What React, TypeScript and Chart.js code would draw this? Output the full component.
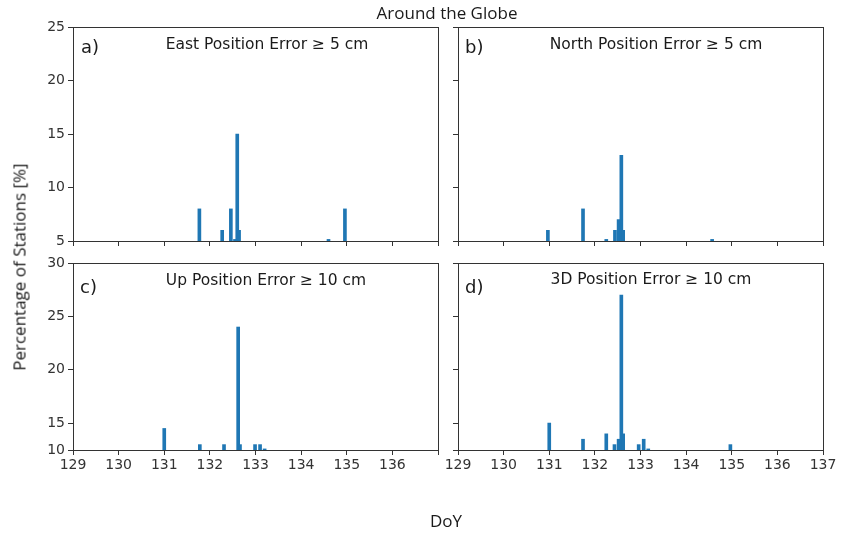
import React, { useEffect, useRef } from "react";
import Chart, { LinearScale } from "chart.js/auto";

const figureTitle = "Around the Globe";
const xAxisTitle = "DoY";
const yAxisTitle = "Percentage of Stations [%]";

const dayTicks = [129, 130, 131, 132, 133, 134, 135, 136, 137];
const topYTicks = [5, 10, 15, 20, 25];
const bottomYTicks = [10, 15, 20, 25, 30];

const eastDoY = [131.77, 132.27, 132.46, 132.55, 132.6, 132.64, 134.6, 134.96];
const eastPct = [8, 6, 8, 5.15, 15, 6, 5.15, 8];

const northDoY = [130.97, 131.74, 132.25, 132.44, 132.52, 132.58, 132.62, 134.57];
const northPct = [6, 8, 5.15, 6, 7, 13, 6, 5.15];

const upDoY = [131.0, 131.78, 132.31, 132.62, 132.66, 132.99, 133.1, 133.2];
const upPct = [14, 11, 11, 24, 11, 11, 11, 10.2];

const d3DoY = [131.0, 131.74, 132.25, 132.43, 132.52, 132.58, 132.62, 132.96, 133.07, 133.17, 134.97];
const d3Pct = [15, 12, 13, 11, 12, 27, 13, 11, 12, 10.2, 11];

const W = 842;
const H = 533;
const INK = "#333333";
const BAR = "#1f77b4";
const Y_AXIS_W = 50;
const X_AXIS_H = 30;

// Bottom-row axis as printed: 10..15 occupies a shorter band than 15..30.
const bottomBreakValue = 15;
const bottomBreakFraction = 0.856;

class BrokenLinearScale extends (LinearScale as any) {
  static id = "brokenLinear";
  getPixelForValue(value: number) {
    const b = bottomBreakValue;
    const f = bottomBreakFraction;
    let frac: number;
    if (value >= b) frac = ((this.max - value) / (this.max - b)) * f;
    else frac = f + ((b - value) / (b - this.min)) * (1 - f);
    return this.top + frac * this.height;
  }
  getValueForPixel(pixel: number) {
    const b = bottomBreakValue;
    const f = bottomBreakFraction;
    const frac = (pixel - this.top) / this.height;
    if (frac <= f) return this.max - (frac / f) * (this.max - b);
    return b - ((frac - f) / (1 - f)) * (b - this.min);
  }
}
Chart.register(BrokenLinearScale as any);

type PanelProps = {
  left: number; top: number; right: number; bottom: number;
  xs: number[]; ys: number[];
  yTicks: number[]; yType: string;
  showXLabels: boolean; hideLastX: boolean; showYLabels: boolean;
};

const framePlugin = {
  id: "frame",
  afterDatasetsDraw(chart: any) {
    const { ctx, chartArea } = chart;
    ctx.save();
    ctx.strokeStyle = INK;
    ctx.lineWidth = 1;
    ctx.strokeRect(chartArea.left + 0.5, chartArea.top + 0.5, chartArea.right - chartArea.left, chartArea.bottom - chartArea.top);
    ctx.restore();
  },
};

function Panel(p: PanelProps) {
  const ref = useRef<HTMLCanvasElement | null>(null);
  useEffect(() => {
    if (!ref.current) return;
    const tickFont = { family: "DejaVu Sans", size: 14 };
    const chart = new Chart(ref.current, {
      type: "bar",
      data: {
        datasets: [
          {
            data: p.xs.map((x, i) => ({ x, y: p.ys[i] })),
            backgroundColor: BAR,
            borderWidth: 0,
            barThickness: 3,
          },
        ],
      },
      options: {
        responsive: false,
        animation: false,
        devicePixelRatio: 1,
        layout: {
          padding: {
            left: p.left - Y_AXIS_W,
            top: p.top,
            right: W - p.right,
            bottom: H - p.bottom - X_AXIS_H,
          },
        },
        plugins: { legend: { display: false }, tooltip: { enabled: false }, title: { display: false } },
        scales: {
          x: {
            type: "linear",
            min: dayTicks[0],
            max: dayTicks[dayTicks.length - 1],
            offset: false,
            afterFit: (s: any) => { s.height = X_AXIS_H; },
            afterBuildTicks: (s: any) => { s.ticks = dayTicks.map((v) => ({ value: v })); },
            grid: { offset: false, drawOnChartArea: false, drawTicks: true, tickLength: 5, tickColor: INK, color: INK },
            border: { display: false },
            ticks: {
              display: p.showXLabels,
              autoSkip: false,
              maxRotation: 0,
              padding: 2,
              color: INK,
              font: tickFont,
              callback: (v: any) => (p.hideLastX && v === dayTicks[dayTicks.length - 1] ? "" : String(v)),
            },
          },
          y: {
            type: p.yType,
            min: p.yTicks[0],
            max: p.yTicks[p.yTicks.length - 1],
            afterFit: (s: any) => { s.width = Y_AXIS_W; },
            afterBuildTicks: (s: any) => { s.ticks = p.yTicks.map((v) => ({ value: v })); },
            grid: { drawOnChartArea: false, drawTicks: true, tickLength: 5, tickColor: INK, color: INK },
            border: { display: false },
            ticks: { display: p.showYLabels, padding: 3, color: INK, font: tickFont, callback: (v: any) => String(v) },
          },
        },
      },
      plugins: [framePlugin],
    } as any);
    return () => chart.destroy();
  }, []);
  return (
    <canvas
      ref={ref}
      width={W}
      height={H}
      style={{ position: "absolute", left: 0, top: 0, width: W, height: H, pointerEvents: "none" }}
    />
  );
}

const centered = (x: number, y: number, size: number, family: string, extra: any = {}) => ({
  position: "absolute" as const,
  left: x,
  top: y,
  transform: "translate(-50%, -50%)",
  fontSize: size,
  fontFamily: family,
  color: "#1a1a1a",
  whiteSpace: "nowrap" as const,
  lineHeight: 1,
  ...extra,
});

const leftAt = (x: number, y: number, size: number) => ({
  position: "absolute" as const,
  left: x,
  top: y,
  transform: "translateY(-50%)",
  fontSize: size,
  fontFamily: "DejaVu Sans",
  color: "#1a1a1a",
  whiteSpace: "nowrap" as const,
  lineHeight: 1,
});

export default function App() {
  return (
    <div style={{ position: "absolute", left: 0, top: 0, width: W, height: H, background: "#fff", overflow: "hidden" }}>
      <Panel left={73} top={27} right={438} bottom={241} xs={eastDoY} ys={eastPct} yTicks={topYTicks} yType="linear" showXLabels={false} hideLastX={true} showYLabels={true} />
      <Panel left={458} top={27} right={823} bottom={241} xs={northDoY} ys={northPct} yTicks={topYTicks} yType="linear" showXLabels={false} hideLastX={false} showYLabels={false} />
      <Panel left={73} top={263} right={438} bottom={450} xs={upDoY} ys={upPct} yTicks={bottomYTicks} yType="brokenLinear" showXLabels={true} hideLastX={true} showYLabels={true} />
      <Panel left={458} top={263} right={823} bottom={450} xs={d3DoY} ys={d3Pct} yTicks={bottomYTicks} yType="brokenLinear" showXLabels={true} hideLastX={false} showYLabels={false} />

      <div style={centered(447, 12, 17, "Open Sans")}>{figureTitle}</div>
      <div style={centered(446, 520, 17, "Open Sans")}>{xAxisTitle}</div>
      <div style={centered(19, 267, 17, "Open Sans", { transform: "translate(-50%, -50%) rotate(-90deg)" })}>{yAxisTitle}</div>

      <div style={leftAt(81, 47, 18)}>a)</div>
      <div style={leftAt(465, 47, 18)}>b)</div>
      <div style={leftAt(80, 287, 18)}>c)</div>
      <div style={leftAt(465, 287, 18)}>d)</div>

      <div style={centered(267, 45, 15.5, "DejaVu Sans")}>East Position Error ≥ 5 cm</div>
      <div style={centered(656, 45, 15.5, "DejaVu Sans")}>North Position Error ≥ 5 cm</div>
      <div style={centered(266, 281, 15.5, "DejaVu Sans")}>Up Position Error ≥ 10 cm</div>
      <div style={centered(651, 280, 15.5, "DejaVu Sans")}>3D Position Error ≥ 10 cm</div>
    </div>
  );
}
